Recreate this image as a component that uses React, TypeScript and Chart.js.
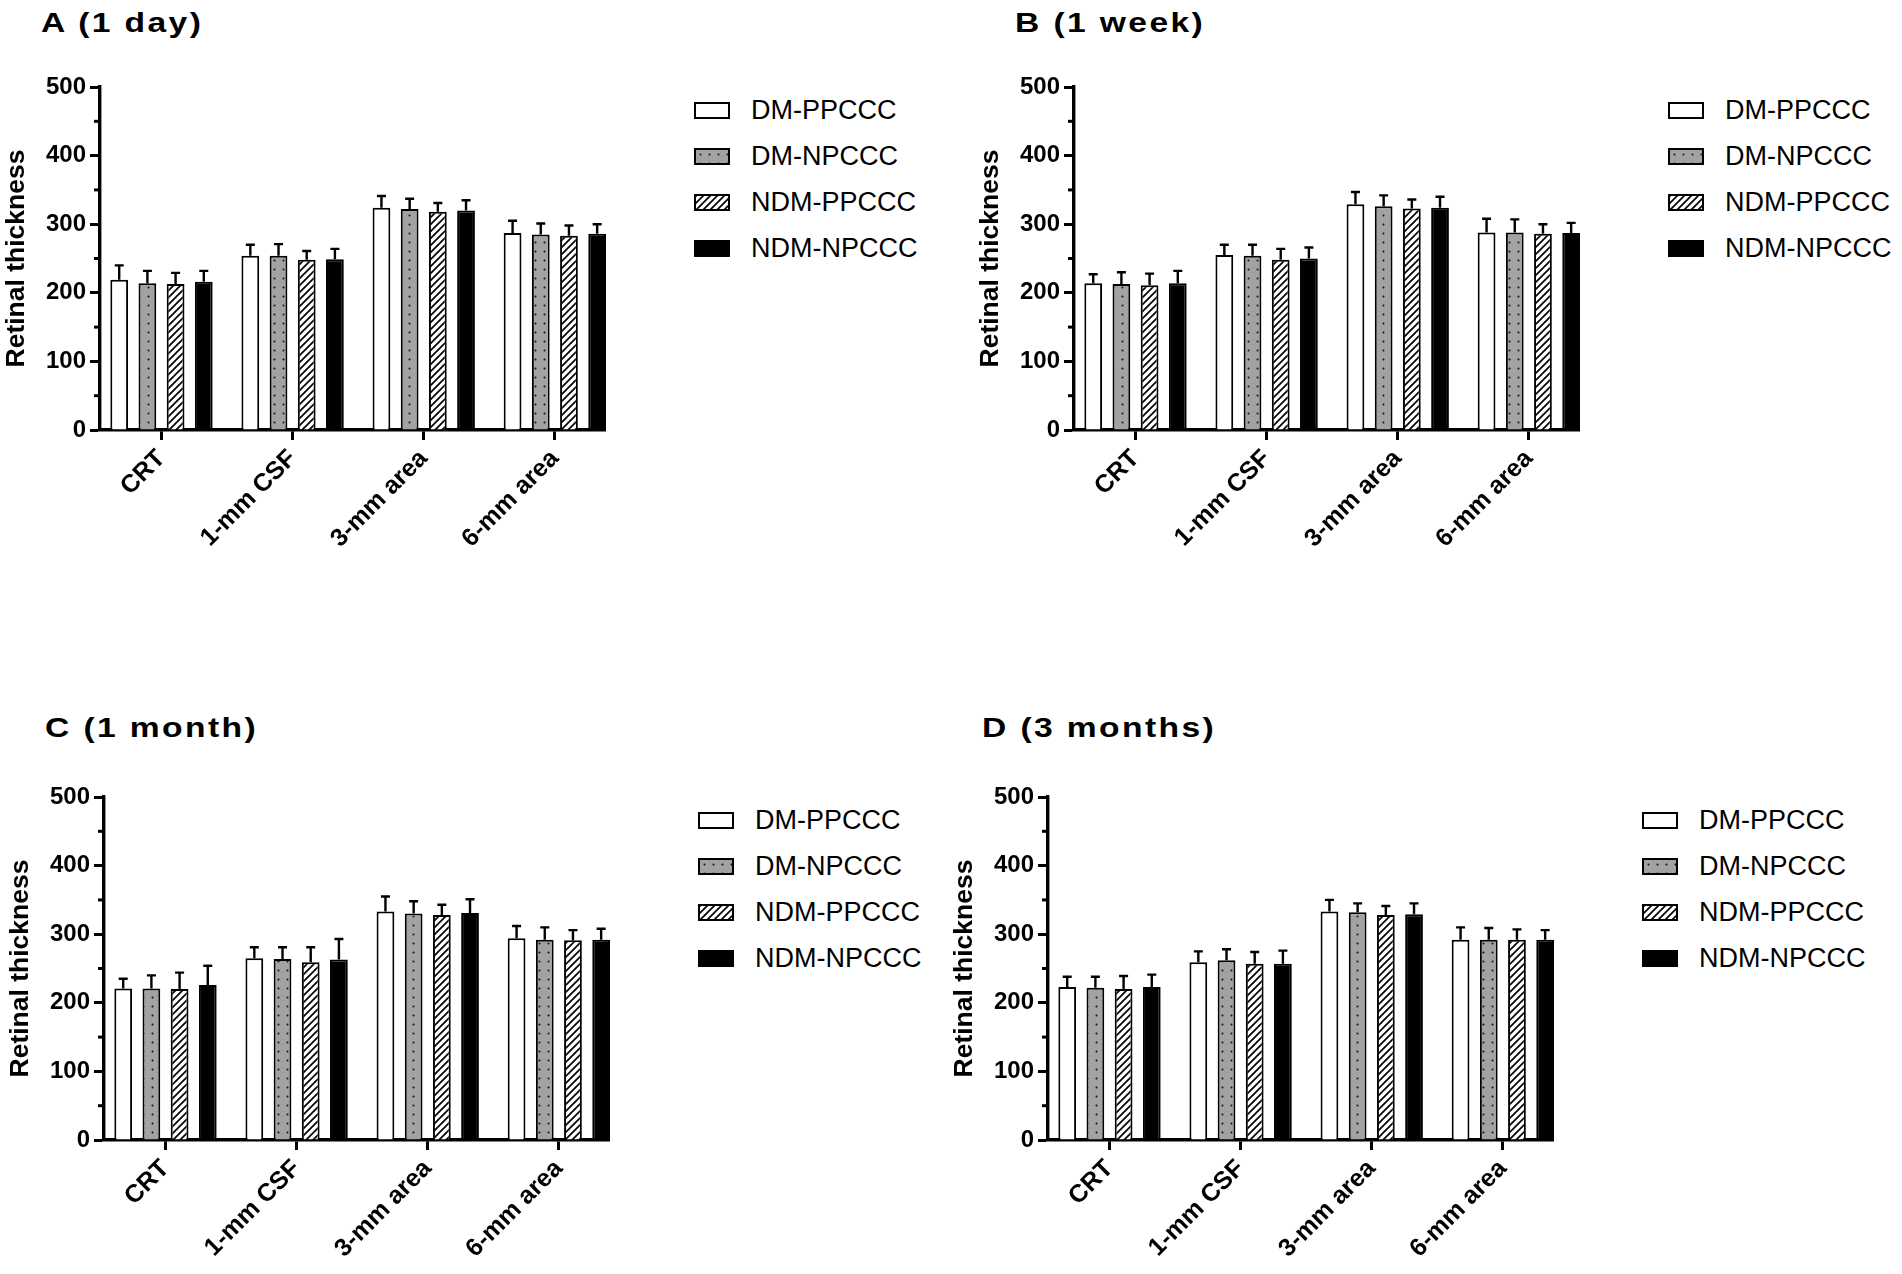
import React, { useEffect, useRef } from 'react';
import { Chart, registerables } from 'chart.js';

Chart.register(...registerables);

const FONT = "'Liberation Sans', Arial, Helvetica, sans-serif";
Chart.defaults.font.family = FONT;

const categories = ['CRT', '1-mm CSF', '3-mm area', '6-mm area'];
const groups = ['DM-PPCCC', 'DM-NPCCC', 'NDM-PPCCC', 'NDM-NPCCC'];
const yTickValues = [0, 100, 200, 300, 400, 500];
const yMinorTicks = [50, 150, 250, 350, 450];

// A (1 day): means and upper SD, one value per category
const aDmPp = [219, 254, 324, 287];
const aDmPpSd = [21, 16, 17, 18];
const aDmNp = [214, 254, 322, 285];
const aDmNpSd = [18, 17, 15, 16];
const aNdmPp = [213, 248, 318, 283];
const aNdmPpSd = [16, 13, 13, 15];
const aNdmNp = [216, 249, 320, 286];
const aNdmNpSd = [16, 15, 15, 14];

// B (1 week)
const bDmPp = [214, 255, 329, 288];
const bDmPpSd = [13, 15, 18, 20];
const bDmNp = [213, 254, 326, 288];
const bDmNpSd = [17, 16, 16, 19];
const bNdmPp = [211, 248, 323, 286];
const bNdmPpSd = [17, 16, 13, 14];
const bNdmNp = [214, 250, 324, 287];
const bNdmNpSd = [18, 16, 16, 15];

// C (1 month)
const cDmPp = [221, 265, 333, 294];
const cDmPpSd = [14, 16, 22, 18];
const cDmNp = [221, 264, 330, 292];
const cDmNpSd = [19, 17, 18, 18];
const cNdmPp = [220, 259, 328, 291];
const cNdmPpSd = [24, 22, 15, 15];
const cNdmNp = [226, 263, 331, 292];
const cNdmNpSd = [28, 30, 20, 16];

// D (3 months)
const dDmPp = [223, 259, 333, 292];
const dDmPpSd = [15, 16, 17, 18];
const dDmNp = [222, 262, 332, 292];
const dDmNpSd = [16, 16, 13, 17];
const dNdmPp = [220, 257, 328, 292];
const dNdmPpSd = [19, 17, 13, 15];
const dNdmNp = [223, 257, 329, 292];
const dNdmNpSd = [18, 19, 16, 14];

const GRAY = '#a2a2a5';

// pattern tiles for the dotted and hatched bars
function makeDotTile() {
  const c = document.createElement('canvas');
  c.width = 9;
  c.height = 9;
  const g = c.getContext('2d')!;
  g.fillStyle = GRAY;
  g.fillRect(0, 0, 9, 9);
  g.fillStyle = '#111';
  g.beginPath();
  g.arc(4.5, 4.5, 1, 0, Math.PI * 2);
  g.fill();
  return c;
}

function makeHatchTile() {
  const s = 7;
  const c = document.createElement('canvas');
  c.width = s;
  c.height = s;
  const g = c.getContext('2d')!;
  g.fillStyle = '#fff';
  g.fillRect(0, 0, s, s);
  g.strokeStyle = '#000';
  g.lineWidth = 1.7;
  g.beginPath();
  g.moveTo(0, s);
  g.lineTo(s, 0);
  g.moveTo(-2, 2);
  g.lineTo(2, -2);
  g.moveTo(s - 2, s + 2);
  g.lineTo(s + 2, s - 2);
  g.stroke();
  return c;
}

const dotTile = makeDotTile();
const hatchTile = makeHatchTile();

const errorBarPlugin = {
  id: 'errorBars',
  afterDatasetsDraw(chart: any, _args: any, opts: any) {
    const ctx = chart.ctx;
    const yScale = chart.scales.y;
    ctx.save();
    ctx.strokeStyle = '#000';
    ctx.lineWidth = 2.4;
    chart.data.datasets.forEach((ds: any, i: number) => {
      const meta = chart.getDatasetMeta(i);
      meta.data.forEach((bar: any, j: number) => {
        const top = yScale.getPixelForValue(ds.data[j].y + opts.errs[i][j]);
        ctx.beginPath();
        ctx.moveTo(bar.x, bar.y);
        ctx.lineTo(bar.x, top);
        ctx.moveTo(bar.x - 4.5, top);
        ctx.lineTo(bar.x + 4.5, top);
        ctx.stroke();
      });
    });
    ctx.restore();
  },
};

const minorTickPlugin = {
  id: 'minorTicks',
  afterDraw(chart: any) {
    const ctx = chart.ctx;
    const yScale = chart.scales.y;
    const x = chart.chartArea.left;
    ctx.save();
    ctx.strokeStyle = '#000';
    ctx.lineWidth = 3;
    yMinorTicks.forEach((v) => {
      const y = yScale.getPixelForValue(v);
      ctx.beginPath();
      ctx.moveTo(x - 6, y);
      ctx.lineTo(x, y);
      ctx.stroke();
    });
    ctx.restore();
  },
};

interface PanelProps {
  title: string;
  axisX: number;
  top500: number;
  titleDx: number;
  titleDy: number;
  means: number[][];
  errs: number[][];
}

const Y_AXIS_W = 100;
const PAD_TOP = 20;
const AREA_W = 506;
const AREA_H = 343;
const X_AXIS_H = 150;

const Panel: React.FC<PanelProps> = ({ title, axisX, top500, titleDx, titleDy, means, errs }) => {
  const canvasRef = useRef<HTMLCanvasElement | null>(null);

  useEffect(() => {
    if (!canvasRef.current) return;
    const ctx = canvasRef.current.getContext('2d')!;
    const fills: any[] = [
      '#ffffff',
      ctx.createPattern(dotTile, 'repeat'),
      ctx.createPattern(hatchTile, 'repeat'),
      '#000000',
    ];
    const chart = new Chart(ctx, {
      type: 'bar',
      data: {
        datasets: groups.map((g, i) => ({
          label: g,
          data: means[i].map((v, j) => ({ x: j, y: v })),
          backgroundColor: fills[i],
          borderColor: '#000',
          borderWidth: 2,
          categoryPercentage: 0.86,
          barPercentage: 0.63,
        })),
      } as any,
      options: {
        responsive: false,
        animation: false,
        layout: { padding: { top: PAD_TOP, left: 0, right: 0, bottom: 0 } },
        plugins: {
          legend: { display: false },
          tooltip: { enabled: false },
          errorBars: { errs },
        } as any,
        scales: {
          x: {
            type: 'linear',
            min: -0.469,
            max: 3.39,
            offset: false,
            afterBuildTicks: (s: any) => {
              s.ticks = categories.map((_, i) => ({ value: i }));
            },
            afterFit: (s: any) => {
              s.height = X_AXIS_H;
            },
            ticks: {
              callback: (v: any) => categories[v as number],
              autoSkip: false,
              minRotation: 45,
              maxRotation: 45,
              color: '#000',
              font: { size: 25, weight: 'bold' },
              padding: 4,
            },
            grid: {
              offset: false,
              drawOnChartArea: false,
              drawTicks: true,
              tickLength: 10,
              tickWidth: 3,
              tickColor: '#000',
            },
            border: { display: true, width: 3.4, color: '#000' },
          },
          y: {
            type: 'linear',
            min: 0,
            max: 500,
            afterBuildTicks: (s: any) => {
              s.ticks = yTickValues.map((v) => ({ value: v }));
            },
            afterFit: (s: any) => {
              s.width = Y_AXIS_W;
            },
            ticks: {
              color: '#000',
              font: { size: 24, weight: 'bold' },
              padding: 4,
            },
            grid: {
              drawOnChartArea: false,
              drawTicks: true,
              tickLength: 10,
              tickWidth: 3,
              tickColor: '#000',
            },
            border: { display: true, width: 3.4, color: '#000' },
            title: {
              display: true,
              text: 'Retinal thickness',
              color: '#000',
              font: { size: 26.5, weight: 'bold' },
              padding: { top: 1, bottom: 0 },
            },
          },
        } as any,
      },
      plugins: [errorBarPlugin, minorTickPlugin],
    });
    return () => chart.destroy();
  }, []);

  const swatchBg = [
    { background: '#fff' },
    { backgroundImage: `url(${dotTile.toDataURL()})` },
    { backgroundImage: `url(${hatchTile.toDataURL()})` },
    { background: '#000' },
  ];

  return (
    <>
      <div
        style={{
          position: 'absolute',
          left: axisX - 59 + titleDx,
          top: top500 - 78 + titleDy,
          fontSize: 28,
          lineHeight: 1,
          fontWeight: 'bold',
          letterSpacing: 2,
          whiteSpace: 'nowrap',
          transform: 'scaleX(1.2)',
          transformOrigin: 'left top',
          color: '#000',
        }}
      >
        {title}
      </div>
      <canvas
        ref={canvasRef}
        width={Y_AXIS_W + AREA_W}
        height={PAD_TOP + AREA_H + X_AXIS_H}
        style={{
          position: 'absolute',
          left: axisX - Y_AXIS_W,
          top: top500 - PAD_TOP,
          width: Y_AXIS_W + AREA_W,
          height: PAD_TOP + AREA_H + X_AXIS_H,
        }}
      />
      {groups.map((g, i) => (
        <React.Fragment key={g}>
          <div
            style={{
              position: 'absolute',
              left: axisX + 594,
              top: top500 + 23.4 - 8.5 + i * 46,
              width: 36,
              height: 17,
              boxSizing: 'border-box',
              border: '2px solid #000',
              ...swatchBg[i],
            }}
          />
          <div
            style={{
              position: 'absolute',
              left: axisX + 651,
              top: top500 + 23.4 - 13.5 + i * 46,
              fontSize: 27,
              lineHeight: '27px',
              whiteSpace: 'nowrap',
              color: '#000',
            }}
          >
            {g}
          </div>
        </React.Fragment>
      ))}
    </>
  );
};

const panels: PanelProps[] = [
  {
    title: 'A (1 day)',
    axisX: 100,
    top500: 87,
    titleDx: 0,
    titleDy: 0,
    means: [aDmPp, aDmNp, aNdmPp, aNdmNp],
    errs: [aDmPpSd, aDmNpSd, aNdmPpSd, aNdmNpSd],
  },
  {
    title: 'B (1 week)',
    axisX: 1074,
    top500: 87,
    titleDx: 0,
    titleDy: 0,
    means: [bDmPp, bDmNp, bNdmPp, bNdmNp],
    errs: [bDmPpSd, bDmNpSd, bNdmPpSd, bNdmNpSd],
  },
  {
    title: 'C (1 month)',
    axisX: 104,
    top500: 797,
    titleDx: 0,
    titleDy: -5,
    means: [cDmPp, cDmNp, cNdmPp, cNdmNp],
    errs: [cDmPpSd, cDmNpSd, cNdmPpSd, cNdmNpSd],
  },
  {
    title: 'D (3 months)',
    axisX: 1048,
    top500: 797,
    titleDx: -7,
    titleDy: -5,
    means: [dDmPp, dDmNp, dNdmPp, dNdmNp],
    errs: [dDmPpSd, dDmNpSd, dNdmPpSd, dNdmNpSd],
  },
];

const App: React.FC = () => {
  return (
    <div
      style={{
        position: 'absolute',
        left: 0,
        top: 0,
        width: 1902,
        height: 1274,
        background: '#fff',
        fontFamily: FONT,
        overflow: 'hidden',
      }}
    >
      {panels.map((p) => (
        <Panel key={p.title} {...p} />
      ))}
    </div>
  );
};

export default App;
